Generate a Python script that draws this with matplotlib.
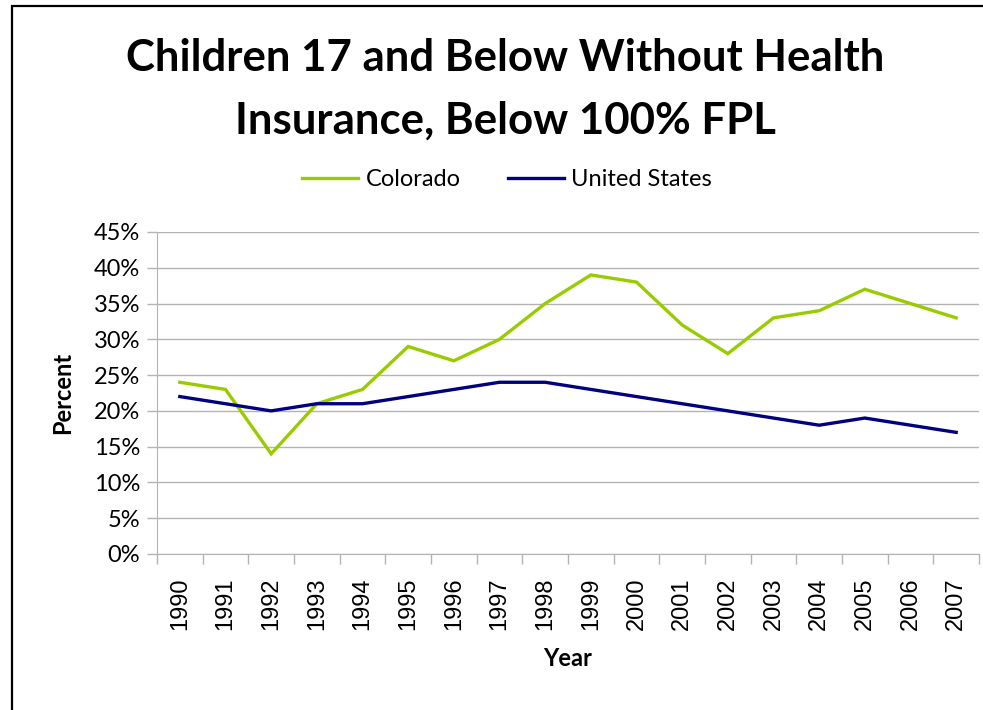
import numpy as np
import matplotlib
matplotlib.use("Agg")
import matplotlib.pyplot as plt
from matplotlib.lines import Line2D
from matplotlib.patches import Rectangle

years = ["1990", "1991", "1992", "1993", "1994", "1995", "1996", "1997", "1998",
         "1999", "2000", "2001", "2002", "2003", "2004", "2005", "2006", "2007"]
colorado = [24, 23, 14, 21, 23, 29, 27, 30, 35, 39, 38, 32, 28, 33, 34, 37, 35, 33]
united_states = [22, 21, 20, 21, 21, 22, 23, 24, 24, 23, 22, 21, 20, 19, 18, 19, 18, 17]
y_ticks = [0, 5, 10, 15, 20, 25, 30, 35, 40, 45]

green = "#99CC00"
navy = "#000080"
grid_col = "#B3B3B3"
font = "Lato"

W, H = 983, 710
fig = plt.figure(figsize=(W / 100, H / 100), dpi=100)

# plot area in pixels
left, right, top, bottom = 157, 979, 232, 554
ax = fig.add_axes([left / W, 1 - bottom / H, (right - left) / W, (bottom - top) / H])

x = np.arange(len(years))
ax.plot(x, colorado, color=green, lw=2.4, solid_joinstyle="miter", label="Colorado")
ax.plot(x, united_states, color=navy, lw=2.4, solid_joinstyle="miter", label="United States")

ax.set_xlim(-0.5, len(years) - 0.5)
ax.set_ylim(0, 45)
ax.set_yticks(y_ticks)
ax.set_yticklabels([f"{v}%" for v in y_ticks], fontsize=17, family=font)
ax.yaxis.grid(True, color=grid_col, lw=1)
ax.set_axisbelow(True)

ax.set_xticks(x)
ax.set_xticklabels(years, rotation=90, fontsize=17, family="Liberation Sans")
ax.set_xticks(np.arange(len(years) + 1) - 0.5, minor=True)
ax.tick_params(axis="x", which="major", length=0, pad=17)
ax.tick_params(axis="x", which="minor", length=7, color=grid_col, width=1)
ax.tick_params(axis="y", length=7, color=grid_col, width=1, pad=5)

for s in ["top", "right"]:
    ax.spines[s].set_visible(False)
ax.spines["left"].set_color(grid_col)
ax.spines["bottom"].set_color(grid_col)

ax.set_ylabel("Percent", fontsize=17, fontweight="bold", family=font, labelpad=14)
ax.set_xlabel("Year", fontsize=17, fontweight="bold", family=font, labelpad=12)

fig.text(505 / W, 1 - 58 / H, "Children 17 and Below Without Health", ha="center", va="center",
         fontsize=31.5, fontweight="bold", family=font)
fig.text(505 / W, 1 - 121 / H, "Insurance, Below 100% FPL", ha="center", va="center",
         fontsize=31.5, fontweight="bold", family=font)

handles = [Line2D([], [], color=green, lw=2.4), Line2D([], [], color=navy, lw=2.4)]
fig.legend(handles, ["Colorado", "United States"], loc="center", bbox_to_anchor=(507 / W, 1 - 180 / H),
           ncol=2, frameon=False, prop={"family": font, "size": 17}, handlelength=2.4,
           handletextpad=0.3, columnspacing=2.0)

# chart border (left and top visible)
fig.add_artist(Rectangle((11.5 / W, -0.05), 1.2, 1 - 5.5 / H + 0.05, transform=fig.transFigure,
                         fill=False, edgecolor="black", lw=1.6))

fig.savefig("out.png", dpi=100)
